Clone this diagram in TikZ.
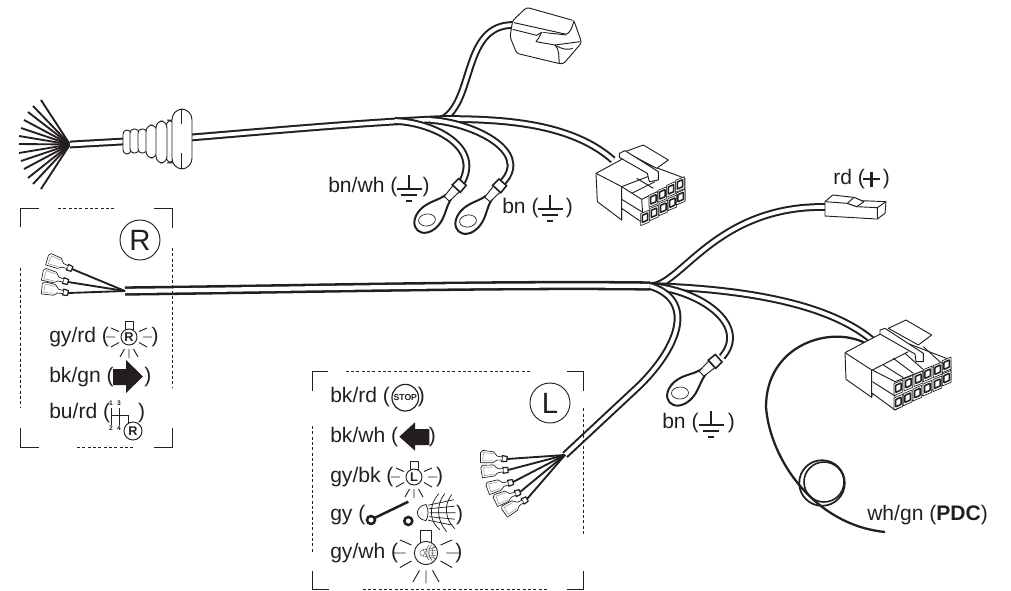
\documentclass[tikz,border=0pt]{standalone}
\usepackage{fontspec}
\setmainfont{Liberation Sans}
\definecolor{ink}{HTML}{231F20}

\tikzset{
    wire/.style={line width=1.5pt,double=white,double distance=2.8pt},
    mainwire/.style={line width=1.9pt,double=white,double distance=3.2pt},
    thinwire/.style={line width=1.4pt},
    partline/.style={line width=.7pt,fill=white,line join=round},
    greyline/.style={line width=.35pt,draw=black!45},
    boxline/.style={line width=.7pt},
    boxdash/.style={line width=.7pt,dash pattern=on 2.2pt off 1.8pt},
    pics/groundsym/.style={code={
        \draw[line width=1.5pt] (0,0) -- (0,14) (-12.5,14) -- (12.5,14)
            (-8,20) -- (8,20);
        \draw[line width=1.9pt] (-3,26) -- (3,26);
    }},
    pics/ringlug/.style={code={
        \draw[line width=1.5pt,fill=white] (31,-3.5) .. controls (22,-5) and (14,-12) .. (3,-12)
            .. controls (-8,-12) and (-14,-6) .. (-14,0)
            .. controls (-14,6) and (-8,12) .. (3,12)
            .. controls (14,12) and (22,5) .. (31,3.5) -- cycle;
        \draw[partline,line width=.5pt,rotate=-40] (0,0) ellipse [x radius=8.5,y radius=6];
        \draw[partline] (29,-3.5) -- (43,-4.5) -- (43,4.5) -- (29,3.5) -- cycle;
        \draw[line width=1.2pt,fill=white] (43,-5.5) -- (52,-5) -- (52,5) -- (43,5.5) -- cycle;
    }},
    pics/bladelug/.style={code={
        \draw[partline,line width=.9pt] (0,-2.5) -- (-5,-3) -- (-5,3) -- (0,2.5) -- cycle;
        \draw[partline,line width=.5pt] (-5,-1.5) -- (-10,-2) -- (-14,-6) -- (-25,-6.5)
            -- (-27,-4) -- (-26,6) -- (-14,5) -- (-10,2) -- (-5,1.5);
        \draw[greyline] (-14,-4) -- (-24,-4.5) -- (-24,4) -- (-14,3);
    }},
    pics/lampsym/.style={code={
        \draw[partline] (-4,-15.5) rectangle (4,-7.5);
        \draw[partline] (0,0) circle (8);
        \draw[line width=.7pt] (-23,0) -- (-14,0) (14,0) -- (23,0)
            (-18,-9) -- (-10,-5.5) (18,-9) -- (10,-5.5)
            (-18,10) -- (-10,5.5) (18,10) -- (10,5.5)
            (-9,20) -- (-4.5,12) (0,21) -- (0,12) (9,20) -- (4.5,12);
        \node[inner sep=0,font=\fontsize{9.5}{9.5}\selectfont\bfseries] (-mark) at (0,0) {#1};
    }},
    pics/beamsym/.style={code={
        \draw[line width=#1] (-10.7,-8.3) .. controls (-17,-7) and (-19.3,-3) .. (-19.3,0)
            .. controls (-19.3,3) and (-17,7) .. (-10.7,8)
            .. controls (-8,3) and (-8,-3) .. cycle;
        \draw[line width=#1] (-8.5,-7.5) -- (17,-13) (-7.5,-4) -- (18,-6.5) (-7,0) -- (19,0)
            (-7.5,4) -- (18,6.5) (-8.5,7.5) -- (16,12.5);
        \draw[line width=#1] (2,-19) .. controls (-8,-8) and (-8,8) .. (3,17)
            (8,-19) .. controls (-1,-8) and (0,8) .. (10,19)
            (15,-18) .. controls (7,-8) and (8,6) .. (18,16);
    }},
    pics/pinslot/.style={code={
        \draw[partline,line width=.5pt] (-4.3,-3.7) -- (4.3,-7.3) -- (4.3,4.7) -- (-4.3,8.3) -- cycle;
        \draw[line width=1.15pt,fill=white,rounded corners=.4pt] (-2.7,-2) -- (2.7,-4.4) -- (2.7,2.7) -- (-2.7,5.1) -- cycle;
    }},
}

\begin{document}
\begin{tikzpicture}[x=.75pt,y=-.75pt,color=ink]
\useasboundingbox (0,0) rectangle (1011,590);

% wire ends
\coordinate (fan) at (70,144.5);
\coordinate (bootin) at (123,141.5);
\coordinate (bootout) at (191,137.5);
\coordinate (hubA) at (443,119);
\coordinate (gndA) at (395,121);
\coordinate (gndB) at (430,120);
\coordinate (clipin) at (514,25);
\coordinate (eightin) at (613,160);
\coordinate (lugA) at (462,182);
\coordinate (lugB) at (503,182);
\coordinate (hubR) at (125,291);
\coordinate (hubB) at (650,286);
\coordinate (redin) at (826,207);
\coordinate (twelvein) at (872,340);
\coordinate (lugC) at (722,357);
\coordinate (hubL) at (565,455);
\coordinate (pdcin) at (865,343);
\coordinate (pdcend) at (885,532);

% fan of loose ends
\draw[thinwire] (fan) -- (41,100);
\draw[thinwire] (fan) -- (33,106);
\draw[thinwire] (fan) -- (28,112);
\draw[thinwire] (fan) -- (24,120);
\draw[thinwire] (fan) -- (21,128);
\draw[thinwire] (fan) -- (19,136);
\draw[thinwire] (fan) -- (19,144);
\draw[thinwire] (fan) -- (19,153);
\draw[thinwire] (fan) -- (21,161);
\draw[thinwire] (fan) -- (24,169);
\draw[thinwire] (fan) -- (28,178);
\draw[thinwire] (fan) -- (33,184);
\draw[thinwire] (fan) -- (41,189);

% upper harness
\draw[wire] (fan) -- (bootin);
\draw[wire] (bootout) .. controls (280,130) and (370,122) .. (hubA);
\draw[wire] (hubA) .. controls (475,100) and (462,24) .. (clipin);
\draw[wire] (hubA) .. controls (500,119) and (570,122) .. (eightin);
\draw[wire] (gndA) .. controls (430,122) and (482,145) .. (lugA);
\draw[wire] (gndB) .. controls (470,122) and (532,150) .. (lugB);

% boot
\draw[partline,rounded corners=3pt] (123,130) rectangle (131,154);
\draw[partline,rounded corners=3pt] (130,129) rectangle (139,153);
\draw[partline,rounded corners=3pt] (138,129) rectangle (147,153);
\draw[partline,rounded corners=5pt] (146,125) rectangle (157,158);
\draw[partline,rounded corners=5pt] (166,120) rectangle (174,163);
\draw[partline,rounded corners=5pt] (156,121) rectangle (167,163);
\draw[partline,rounded corners=8pt] (172,109) rectangle (192,169);
\draw[partline] (181,109) -- (181,124) (181,153) -- (181,169);

% clip connector
\begin{scope}[shift={(500,0)},scale=1/3]
    \draw[partline,rounded corners=2pt] (38,62) -- (80,22) -- (222,62) -- (245,128) -- (190,192) -- (175,190)
        -- (50,160) -- (30,110) -- cycle;
    \draw[partline] (42,68) -- (195,102) .. controls (205,105) and (215,90) .. (222,62);
    \draw[partline] (38,88) -- (110,106) -- (125,97) -- (200,105);
    \draw[partline] (125,97) .. controls (118,110) and (115,118) .. (108,125) -- (165,135)
        -- (240,125);
    \draw[partline] (165,135) .. controls (180,150) and (175,170) .. (178,190);
    \draw[partline] (165,135) .. controls (190,150) and (205,150) .. (218,145);
\end{scope}

% eight pin connector
\begin{scope}[shift={(590,140)},scale=1/3]
    \draw[partline] (18,100) -- (110,50) -- (285,115) -- (285,180) -- (160,250) -- (95,205)
        -- (95,240) -- (22,185) -- cycle;
    \draw[partline] (18,100) -- (95,140) -- (95,240);
    \draw[partline] (95,140) -- (155,178) -- (160,250);
    \draw[partline] (95,178) -- (155,215);
    \draw[partline] (95,140) -- (178,108);
    \draw[partline] (155,178) -- (285,115);
    \draw[partline] (125,160) -- (195,125) (190,145) -- (140,115);
    \draw[partline] (105,35) -- (160,15) -- (235,60) -- (200,85) -- cycle;
    \draw[partline] (88,40) -- (105,32) -- (205,95) -- (205,120) -- (178,125) -- (172,100) -- (88,52) -- cycle;
    \pic (pinE1) at (190,177) {pinslot};
    \pic (pinE2) at (217,162) {pinslot};
    \pic (pinE3) at (243,147) {pinslot};
    \pic (pinE4) at (270,132) {pinslot};
    \pic (pinE5) at (165,232) {pinslot};
    \pic (pinE6) at (192,217) {pinslot};
    \pic (pinE7) at (220,202) {pinslot};
    \pic (pinE8) at (247,187) {pinslot};
    \pic (pinE9) at (272,170) {pinslot};
\end{scope}

% lower harness
\draw[mainwire] (hubR) .. controls (300,289) and (500,284) .. (hubB);
\draw[wire] (hubB) .. controls (680,288) and (715,205) .. (redin);
\draw[wire] (hubB) .. controls (750,289) and (830,305) .. (twelvein);
\draw[wire] (hubB) .. controls (700,290) and (750,325) .. (lugC);
\draw[wire] (hubB) .. controls (695,300) and (680,345) .. (640,385) -- (hubL);
\draw[line width=1.7pt] (pdcin) .. controls (830,325) and (766,345) .. (766,407)
    .. controls (770,460) and (815,525) .. (pdcend);
\draw[line width=1.3pt] (822,483) circle (22.8);
\draw[line width=1.2pt] (824,482) circle (20);

% wires of the two boxes
\draw[thinwire] (hubR) -- (72,269);
\draw[thinwire] (hubR) -- (68,282);
\draw[thinwire] (hubR) -- (68,293);
\draw[thinwire] (hubL) -- (507,459);
\draw[thinwire] (hubL) -- (508,470);
\draw[thinwire] (hubL) -- (513,482);
\draw[thinwire] (hubL) -- (520,492);
\draw[thinwire] (hubL) -- (527,499);

% terminals
\pic[rotate=47] (ringA) at (427,220) {ringlug};
\pic[rotate=48] (ringB) at (468,221) {ringlug};
\pic[rotate=42] (ringC) at (680,393) {ringlug};
\pic[rotate=-22] (bladeRa) at (72,269) {bladelug};
\pic[rotate=-17] (bladeRb) at (68,282) {bladelug};
\pic[rotate=-11] (bladeRc) at (68,293) {bladelug};
\pic[rotate=-5] (bladeLa) at (507,459) {bladelug};
\pic[rotate=4] (bladeLb) at (508,470) {bladelug};
\pic[rotate=15] (bladeLc) at (513,482) {bladelug};
\pic[rotate=20] (bladeLd) at (520,492) {bladelug};
\pic[rotate=30] (bladeLe) at (527,499) {bladelug};

% red plug
\begin{scope}[shift={(640,160)},scale=1/3]
    \draw[partline] (555,125) -- (578,105) -- (640,112) -- (665,122) -- (738,125) -- (735,160)
        -- (712,177) -- (555,168) -- cycle;
    \draw[partline] (555,125) -- (622,130) -- (650,140) -- (712,143) -- (712,177);
    \draw[partline] (712,143) -- (738,125);
    \draw[partline] (622,130) -- (642,112) -- (672,125) -- (650,140) -- cycle;
\end{scope}

% twelve pin connector
\begin{scope}[shift={(840,310)},scale=1/3]
    \draw[partline] (15,128) -- (125,70) -- (332,150) -- (333,210) -- (165,300) -- (97,250)
        -- (95,262) -- (18,208) -- cycle;
    \draw[partline] (15,128) -- (95,180) -- (95,262);
    \draw[partline] (97,180) -- (165,215) -- (165,300);
    \draw[partline] (97,215) -- (165,258);
    \draw[partline] (97,180) -- (205,125);
    \draw[partline] (165,215) -- (332,150);
    \draw[partline] (130,165) -- (190,203) (160,145) -- (220,190) (195,130) -- (248,177)
        (250,110) -- (305,160);
    \draw[partline] (145,55) -- (198,30) -- (275,75) -- (235,105) -- cycle;
    \draw[partline] (120,60) -- (135,55) -- (250,130) -- (250,155) -- (228,155) -- (225,132) -- (120,72) -- cycle;
    \pic (pinT1) at (175,232) {pinslot};
    \pic (pinT2) at (205,218) {pinslot};
    \pic (pinT3) at (235,205) {pinslot};
    \pic (pinT4) at (263,190) {pinslot};
    \pic (pinT5) at (293,178) {pinslot};
    \pic (pinT6) at (320,163) {pinslot};
    \pic (pinT7) at (175,275) {pinslot};
    \pic (pinT8) at (203,262) {pinslot};
    \pic (pinT9) at (232,248) {pinslot};
    \pic (pinT10) at (262,233) {pinslot};
    \pic (pinT11) at (292,220) {pinslot};
    \pic (pinT12) at (320,203) {pinslot};
\end{scope}

% R box
\draw[boxline] (20.7,227) -- (20.7,208) -- (39,208);
\draw[boxline] (154,208) -- (172,208) -- (172,228);
\draw[boxline] (20.7,428) -- (20.7,447) -- (39,447);
\draw[boxline] (154,447) -- (172,447) -- (172,428);
\draw[boxdash] (58,208) -- (116,208);
\draw[boxdash] (77,447) -- (135,447);
\draw[boxdash] (20.7,268) -- (20.7,407);
\draw[boxdash] (172,248) -- (172,387);

% L box
\draw[boxline] (312.3,390.7) -- (312.3,371.7) -- (328.3,371.7);
\draw[boxline] (566.7,371.7) -- (583.3,371.7) -- (583.3,390.7);
\draw[boxline] (312.3,570.7) -- (312.3,589.3) -- (329.3,589.3);
\draw[boxline] (566.7,589.3) -- (583.3,589.3) -- (583.3,570.7);
\draw[boxdash] (345.7,371.7) -- (531.7,371.7);
\draw[boxdash] (362.7,589.3) -- (548.3,589.3);
\draw[boxdash] (312.3,426) -- (312.3,551.7);
\draw[boxdash] (583.3,408.3) -- (583.3,535);

% texts
\begin{scope}[every node/.style={anchor=west,inner sep=0,font=\fontsize{15.8}{18}\selectfont}]
    \node (bnwh) at (328,187) {bn/wh (\hspace{19pt})};
    \node (bnA) at (502,208) {bn (\hspace{20.5pt})};
    \node (bnB) at (662,423) {bn (\hspace{22pt})};
    \node (redplus) at (833,179) {rd (\hspace{13.5pt})};
    \node (pdc) at (867,515) {wh/gn (\textbf{PDC})};
    \node (gyrdR) at (49,337) {gy/rd (\hspace{32pt})};
    \node (bkgnR) at (49,377) {bk/gn (\hspace{23pt})};
    \node (burdR) at (49,413) {bu/rd (\hspace{21pt})};
    \node (bkrdL) at (330,397) {bk/rd (\hspace{21pt})};
    \node (bkwhL) at (330,437) {bk/wh (\hspace{23pt})};
    \node (gybkL) at (330,477) {gy/bk (\hspace{32pt})};
    \node (gyL) at (330,515) {gy (\hspace{68pt})};
    \node (gywhL) at (330,553) {gy/wh (\hspace{43pt})};
\end{scope}

% box marks
\node[draw,circle,line width=.7pt,minimum size=30pt,inner sep=0,font=\fontsize{22}{22}\selectfont] (markR) at (140,240) {R};
\node[draw,circle,line width=.7pt,minimum size=30pt,inner sep=0,font=\fontsize{22}{22}\selectfont] (markL) at (550,403) {L};

% symbols
\pic (earthA) at (409,175) {groundsym};
\pic (earthB) at (550,195) {groundsym};
\pic (earthC) at (711,411) {groundsym};
\draw[line width=1.9pt] (863,179) -- (880,179) (871.5,171.5) -- (871.5,186.5);

\pic (lampR) at (129,337) {lampsym=R};
\pic (lampL) at (414,477) {lampsym=L};
\pic[scale=1.45] (lampF) at (426,553) {lampsym={}};
\pic[scale=.42] (meshF) at (428,553) {beamsym=.25pt};

\fill (113,369) -- (126,369) -- (126,360) -- (143,376.5) -- (126,393) -- (126,385) -- (113,385) -- cycle;
\fill (399.3,436.7) -- (415,422.3) -- (415,429) -- (429.3,429) -- (429.3,445) -- (415,445) -- (415,450.7) -- cycle;

\node[draw,circle,line width=.9pt,minimum size=20pt,inner sep=0,font=\fontsize{6.5}{7}\selectfont\bfseries] (stopsign) at (405.3,397.7) {STOP};

% gear pattern
\draw[line width=.6pt] (111,408) -- (111,425) (119,408) -- (119,425)
    (111,415) -- (128,415) -- (128,423);
\node[inner sep=0,font=\fontsize{5}{5}\selectfont\bfseries] (gearone) at (111,403) {1};
\node[inner sep=0,font=\fontsize{5}{5}\selectfont\bfseries] (gearthree) at (119,403) {3};
\node[inner sep=0,font=\fontsize{5}{5}\selectfont\bfseries] (geartwo) at (111,428) {2};
\node[inner sep=0,font=\fontsize{5}{5}\selectfont\bfseries] (gearfour) at (119,428) {4};
\node[draw,circle,line width=.7pt,fill=white,minimum size=13.5pt,inner sep=0,font=\fontsize{9.5}{9.5}\selectfont\bfseries] (gearR) at (133,431) {R};

% switch and beam
\draw[line width=1.9pt] (371,520) circle (4);
\draw[line width=1.9pt] (408.3,521) circle (4);
\draw[line width=1.9pt] (374.5,518) -- (408.3,501.7);
\pic (beamL) at (436.7,512.7) {beamsym=.55pt};
\end{tikzpicture}
\end{document}
